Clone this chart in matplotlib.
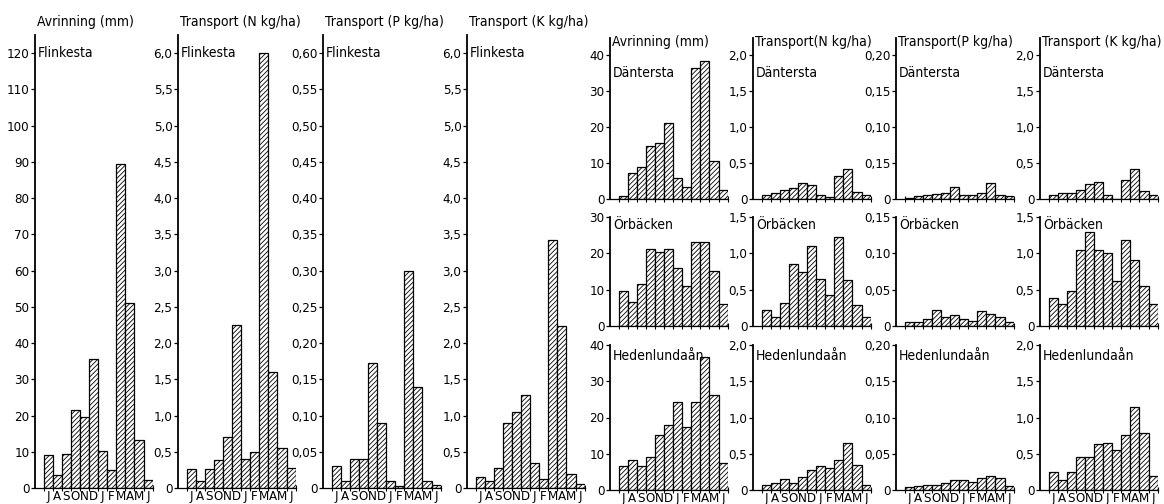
import numpy as np
import matplotlib
matplotlib.use('Agg')
from matplotlib import pyplot as plt

plt.rcParams['font.family'] = ['DejaVu Sans']
plt.rcParams['font.stretch'] = 'condensed'
plt.rcParams['hatch.linewidth'] = 0.6

W, H = 1164, 504

months = ['J', 'A', 'S', 'O', 'N', 'D', 'J', 'F', 'M', 'A', 'M', 'J']

# Flinkesta
flink_avr = [9.0, 3.5, 9.5, 21.5, 19.5, 35.5, 10.2, 5.0, 89.5, 51.0, 13.3, 2.3]
flink_n = [0.26, 0.10, 0.26, 0.38, 0.70, 2.25, 0.40, 0.50, 6.00, 1.60, 0.55, 0.28]
flink_p = [0.030, 0.010, 0.040, 0.040, 0.172, 0.090, 0.010, 0.003, 0.300, 0.140, 0.010, 0.004]
flink_k = [0.15, 0.09, 0.28, 0.90, 1.05, 1.28, 0.35, 0.13, 3.42, 2.24, 0.20, 0.05]

# Däntersta
dant_avr = [0.8, 7.2, 8.8, 14.8, 15.5, 21.2, 5.8, 3.4, 36.5, 38.3, 10.5, 2.5]
dant_n = [0.05, 0.09, 0.12, 0.15, 0.22, 0.19, 0.06, 0.03, 0.32, 0.41, 0.10, 0.05]
dant_p = [0.002, 0.004, 0.006, 0.007, 0.008, 0.016, 0.006, 0.005, 0.008, 0.022, 0.005, 0.004]
dant_k = [0.06, 0.09, 0.08, 0.13, 0.21, 0.24, 0.06, 0.0, 0.26, 0.41, 0.11, 0.05]

# Örbäcken
orb_avr = [9.6, 6.5, 11.6, 21.1, 20.3, 21.1, 16.0, 11.1, 23.0, 23.2, 15.2, 6.1]
orb_n = [0.22, 0.12, 0.32, 0.86, 0.74, 1.10, 0.64, 0.42, 1.23, 0.63, 0.29, 0.13]
orb_p = [0.0055, 0.005, 0.009, 0.022, 0.013, 0.015, 0.009, 0.0065, 0.021, 0.016, 0.012, 0.006]
orb_k = [0.38, 0.30, 0.48, 1.05, 1.30, 1.04, 1.00, 0.62, 1.19, 0.91, 0.55, 0.30]

# Hedenlundaån
hed_avr = [6.6, 8.3, 6.6, 9.2, 15.2, 17.9, 24.4, 17.5, 24.4, 36.8, 26.2, 7.5]
hed_n = [0.07, 0.09, 0.15, 0.10, 0.18, 0.27, 0.33, 0.31, 0.42, 0.65, 0.34, 0.07]
hed_p = [0.0036, 0.006, 0.007, 0.007, 0.009, 0.014, 0.014, 0.0105, 0.016, 0.020, 0.016, 0.005]
hed_k = [0.25, 0.14, 0.25, 0.45, 0.46, 0.63, 0.65, 0.55, 0.76, 1.14, 0.78, 0.20]

titles_left = ['Avrinning (mm)', 'Transport (N kg/ha)', 'Transport (P kg/ha)', 'Transport (K kg/ha)']
titles_right = ['Avrinning (mm)', 'Transport(N kg/ha)', 'Transport(P kg/ha)', 'Transport (K kg/ha)']

flink_ticks = [
    ([0, 10, 20, 30, 40, 50, 60, 70, 80, 90, 100, 110, 120],
     ['0', '10', '20', '30', '40', '50', '60', '70', '80', '90', '100', '110', '120']),
    ([0, 0.5, 1.0, 1.5, 2.0, 2.5, 3.0, 3.5, 4.0, 4.5, 5.0, 5.5, 6.0],
     ['0', '0,5', '1,0', '1,5', '2,0', '2,5', '3,0', '3,5', '4,0', '4,5', '5,0', '5,5', '6,0']),
    ([0, 0.05, 0.10, 0.15, 0.20, 0.25, 0.30, 0.35, 0.40, 0.45, 0.50, 0.55, 0.60],
     ['0', '0,05', '0,10', '0,15', '0,20', '0,25', '0,30', '0,35', '0,40', '0,45', '0,50', '0,55', '0,60']),
    ([0, 0.5, 1.0, 1.5, 2.0, 2.5, 3.0, 3.5, 4.0, 4.5, 5.0, 5.5, 6.0],
     ['0', '0,5', '1,0', '1,5', '2,0', '2,5', '3,0', '3,5', '4,0', '4,5', '5,0', '5,5', '6,0']),
]
flink_top = [125, 6.25, 0.625, 6.25]

dant_ticks = [
    ([0, 10, 20, 30, 40], ['0', '10', '20', '30', '40']),
    ([0, 0.5, 1.0, 1.5, 2.0], ['0', '0,5', '1,0', '1,5', '2,0']),
    ([0, 0.05, 0.10, 0.15, 0.20], ['0', '0,15', '0,10', '0,15', '0,20']),
    ([0, 0.5, 1.0, 1.5, 2.0], ['0', '0,5', '1,0', '1,5', '2,0']),
]
dant_top = [44.7, 2.236, 0.2236, 2.236]

orb_ticks = [
    ([0, 10, 20, 30], ['0', '10', '20', '30']),
    ([0, 0.5, 1.0, 1.5], ['0', '0,5', '1,0', '1,5']),
    ([0, 0.05, 0.10, 0.15], ['0', '0,05', '0,10', '0,15']),
    ([0, 0.5, 1.0, 1.5], ['0', '0,5', '1,0', '1,5']),
]
orb_top = [30, 1.5, 0.15, 1.5]

hed_ticks = [
    ([0, 10, 20, 30, 40], ['0', '10', '20', '30', '40']),
    ([0, 0.5, 1.0, 1.5, 2.0], ['0', '0,5', '1,0', '1,5', '2,0']),
    ([0, 0.05, 0.10, 0.15, 0.20], ['0', '0,05', '0,10', '0,15', '0,20']),
    ([0, 0.5, 1.0, 1.5, 2.0], ['0', '0,5', '1,0', '1,5', '2,0']),
]
hed_top = [40, 2.0, 0.20, 2.0]

fig = plt.figure(figsize=(W / 100, H / 100), dpi=100)

BAR = 9.08
XL = -1.45
FS = 10


def panel(x0, ybot, ytop, values, ticks, top, show_months):
    width = (11.5 - XL) * BAR
    ax = fig.add_axes([x0 / W, (H - ybot) / H, width / W, (ybot - ytop) / H])
    x = np.arange(12)
    ax.bar(x, values, width=1.0, facecolor='white', edgecolor='black',
           linewidth=0.9, hatch='///////')
    ax.set_xlim(XL, 11.5)
    ax.set_ylim(0, top)
    for s in ['top', 'right']:
        ax.spines[s].set_visible(False)
    ax.spines['left'].set_linewidth(1.3)
    ax.spines['bottom'].set_linewidth(0.9)
    ax.set_yticks(ticks[0])
    ax.set_yticklabels(ticks[1])
    ax.tick_params(axis='y', direction='out', length=3, width=0.9, pad=1, labelsize=9.5)
    ax.set_xticks(np.arange(-0.5, 12, 1), minor=True)
    ax.tick_params(axis='x', which='minor', direction='inout', length=5, width=0.8)
    if show_months:
        ax.set_xticks(x)
        ax.set_xticklabels(months)
        ax.tick_params(axis='x', which='major', length=0, pad=1.5, labelsize=9.5)
    else:
        ax.set_xticks([])
    return ax


# left group: Flinkesta
flink_vals = [flink_avr, flink_n, flink_p, flink_k]
left_x = [35, 178, 323, 467]
for i in range(4):
    panel(left_x[i], 488, 35, flink_vals[i], flink_ticks[i], flink_top[i], True)
    fig.text((left_x[i] + 2) / W, (H - 22) / H, titles_left[i], fontsize=FS, va='center', ha='left')
    fig.text((left_x[i] + 3) / W, (H - 53) / H, 'Flinkesta', fontsize=FS, va='center', ha='left')

# right group
right_x = [610, 753, 896, 1040]
rows = [
    ([dant_avr, dant_n, dant_p, dant_k], dant_ticks, dant_top, 'Däntersta', 199, 38, False, 73),
    ([orb_avr, orb_n, orb_p, orb_k], orb_ticks, orb_top, 'Örbäcken', 326, 217, False, 225),
    ([hed_avr, hed_n, hed_p, hed_k], hed_ticks, hed_top, 'Hedenlundaån', 490, 345, True, 356),
]
for r, (vals, ticks, tops, name, yb, yt, show_m, name_y) in enumerate(rows):
    for i in range(4):
        panel(right_x[i], yb, yt, vals[i], ticks[i], tops[i], show_m)
        fig.text((right_x[i] + 3) / W, (H - name_y) / H, name, fontsize=FS, va='center', ha='left')
        if r == 0:
            fig.text((right_x[i] + 2) / W, (H - 42) / H, titles_right[i], fontsize=FS, va='center', ha='left')

fig.savefig('out.png', dpi=100)
